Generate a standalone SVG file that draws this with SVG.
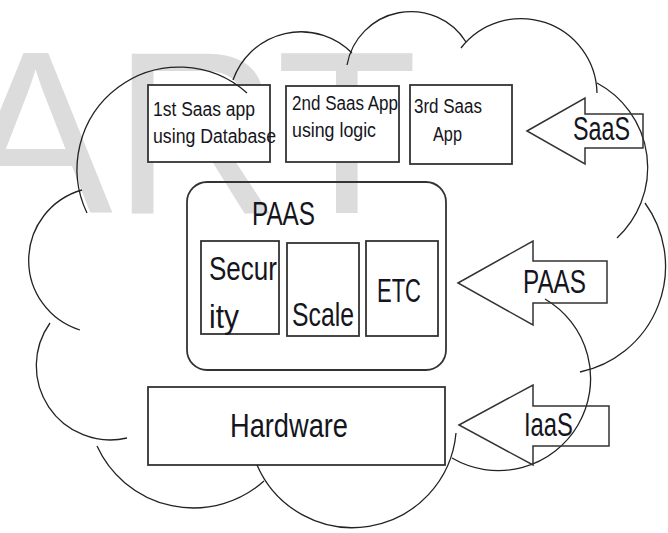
<svg xmlns="http://www.w3.org/2000/svg" width="668" height="533" viewBox="0 0 668 533">
<style>
.wm{font-family:"Liberation Sans",Arial,sans-serif;font-size:232px;fill:#dcdcdc}
.box{fill:#fff;stroke:#333;stroke-width:1.8}
.rbox{fill:none;stroke:#333;stroke-width:1.8}
.cl{fill:none;stroke:#222;stroke-width:1.3}
.ar{fill:none;stroke:#333;stroke-width:1.5;stroke-linejoin:miter}
.t{font-family:"Liberation Sans",Arial,sans-serif;fill:#151520}
.s{font-size:20px}
.L{font-size:33px}
</style>
<rect width="668" height="533" fill="#fff"/>
<g id="watermark"><text class="wm" x="-42" y="213">ART</text></g>

<g id="app1"><rect class="box" x="148" y="85" width="122" height="77"/>
<text class="t s" x="153" y="116" textLength="102" lengthAdjust="spacingAndGlyphs">1st Saas app</text>
<text class="t s" x="153" y="143" textLength="123" lengthAdjust="spacingAndGlyphs">using Database</text></g>

<g id="app2"><rect class="box" x="286" y="86" width="113" height="76"/>
<text class="t s" x="292" y="110" textLength="106" lengthAdjust="spacingAndGlyphs">2nd Saas App</text>
<text class="t s" x="292" y="137" textLength="84" lengthAdjust="spacingAndGlyphs">using logic</text></g>

<g id="app3"><rect class="box" x="410" y="85" width="102" height="79"/>
<text class="t s" x="414" y="113" textLength="68" lengthAdjust="spacingAndGlyphs">3rd Saas</text>
<text class="t s" x="433" y="141" textLength="29" lengthAdjust="spacingAndGlyphs">App</text></g>

<g id="paas"><rect class="rbox" x="187" y="182" width="259" height="188" rx="20"/>
<text class="t L" x="252" y="225" textLength="63" lengthAdjust="spacingAndGlyphs">PAAS</text></g>

<g id="security"><rect class="box" x="201" y="241" width="78" height="93"/>
<text class="t L" x="209" y="280" textLength="68" lengthAdjust="spacingAndGlyphs">Secur</text>
<text class="t L" x="209" y="328" textLength="30" lengthAdjust="spacingAndGlyphs">ity</text></g>

<g id="scale"><rect class="box" x="287" y="243" width="72" height="93"/>
<text class="t L" x="292" y="326" textLength="62" lengthAdjust="spacingAndGlyphs">Scale</text></g>

<g id="etc"><rect class="box" x="366" y="241" width="72" height="95"/>
<text class="t L" x="377" y="302" textLength="44" lengthAdjust="spacingAndGlyphs">ETC</text></g>

<g id="hardware"><rect class="box" x="148" y="387" width="297" height="78"/>
<text class="t L" x="230" y="437" textLength="118" lengthAdjust="spacingAndGlyphs">Hardware</text></g>

<g id="cloud">
<path class="cl" d="M87,213 A102,102 0 0 1 247,93"/>
<path class="cl" d="M233,80 A72,72 0 0 1 352,53"/>
<path class="cl" d="M347,65 A65,65 0 0 1 466,42"/>
<path class="cl" d="M461,48 A76,76 0 0 1 597,93"/>
<path class="cl" d="M597,83 A96,96 0 0 1 617,238"/>
<path class="cl" d="M645,203 A108,108 0 0 1 580,372"/>
<path class="cl" d="M545,299 A92,92 0 0 1 452,458"/>
<path class="cl" d="M456,433 A104,104 0 0 1 257,465"/>
<path class="cl" d="M264,481 A106,106 0 0 1 97,446"/>
<path class="cl" d="M127,438 A74,74 0 0 1 50,323"/>
<path class="cl" d="M80,330 A73,73 0 0 1 82,190"/>
</g>

<g id="connectors">
<g id="saas-arrow"><polygon class="ar" points="527,131 585,98 585,114 643,114 643,148 585,148 585,164"/>
<text class="t L" x="573" y="140" textLength="57" lengthAdjust="spacingAndGlyphs">SaaS</text></g>
<g id="paas-arrow"><polygon class="ar" points="458,283 533,241 533,261 607,261 607,303 533,303 533,325"/>
<text class="t L" x="523" y="293" textLength="63" lengthAdjust="spacingAndGlyphs">PAAS</text></g>
<g id="iaas-arrow"><polygon class="ar" points="459,425 533,385 533,406 609,406 609,446 533,446 533,465"/>
<text class="t L" x="524" y="436" textLength="49" lengthAdjust="spacingAndGlyphs">IaaS</text></g>
</g>
</svg>
